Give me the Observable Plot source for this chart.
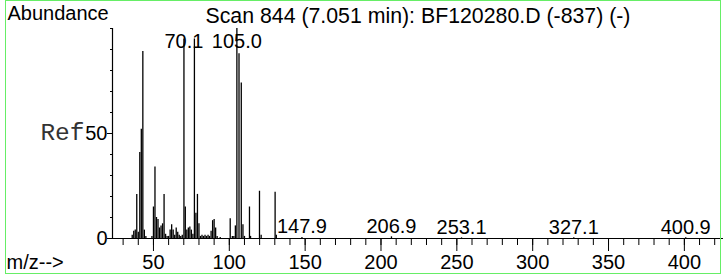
<!DOCTYPE html>
<html><head><meta charset="utf-8">
<script src="https://cdn.jsdelivr.net/npm/d3@7"></script>
<script src="https://cdn.jsdelivr.net/npm/@observablehq/plot@0.6"></script>
<style>
html,body{margin:0;padding:0;background:#fff;}
#wrap{position:relative;width:723px;height:275px;overflow:hidden;}
#border{position:absolute;left:5px;top:0;width:716px;height:274px;border:1.5px solid #66ee66;box-sizing:border-box;pointer-events:none;}
</style></head><body>
<div id="wrap"><div id="border"></div></div>
<script>
const title = "Scan 844 (7.051 min): BF120280.D (-837) (-)";
const yTitle = "Abundance";
const xTitle = "m/z-->";
const refText = "Ref";

const mz = [36, 37, 38, 39, 40, 41, 42, 43, 44, 45, 49, 50, 51, 52, 53, 54, 55, 56, 57, 58, 59, 60, 61, 62, 63, 64, 65, 66, 67, 68, 69,
  70.1, 71, 72, 73, 74, 75, 76, 77, 78, 79, 80, 81, 82, 83, 84, 85, 86, 87, 88, 89, 90, 91, 92, 94,
  100.6, 102, 103, 104, 105.0, 106.4, 107.9, 109, 110, 113.3, 114, 119.9, 121, 130.2, 131,
  147.9, 206.9, 253.1, 327.1, 400.9];
const abundance = [1.5, 3.5, 4, 21, 3, 41, 52, 89, 4, 1, 1, 15, 34, 10, 9, 5, 6, 7, 21, 2, 1, 1, 4, 6.5, 4, 1.5, 5, 3, 1.5, 1, 1.5,
  95, 15, 4, 5, 5.5, 4, 2, 95, 12, 21, 7, 1, 1.5, 1, 1.5, 1, 1.5, 1, 3.5, 8.5, 9, 5, 1, 0.5,
  9.4, 1, 1, 6, 100, 88, 74, 6.5, 1, 15, 1, 22.5, 1.5, 22, 1.5,
  0.5, 0.8, 0.3, 0.3, 0.3];

const labelMz = [70.1, 105.0, 147.9, 206.9, 253.1, 327.1, 400.9];
const labelRowAb = 89;

const xMajorTicks = [50, 100, 150, 200, 250, 300, 350, 400];
const xMinorTicks = [30, 40, 50, 60, 70, 80, 90, 100, 110, 120, 130, 140, 150, 160, 170, 180, 190, 200, 210, 220, 230, 240, 250,
  260, 270, 280, 290, 300, 310, 320, 330, 340, 350, 360, 370, 380, 390, 400, 410, 420];
const yMajorTicks = [0, 50];
const yMinorTicks = [0, 10, 20, 30, 40, 50, 60, 70, 80, 90, 100];
const xDomain = [23, 425.8];
const yDomain = [0, 100];

const peaks = mz.map((m, i) => ({mz: m, ab: abundance[i]}));
const labels = labelMz.map(m => {
  const p = peaks.find(d => d.mz === m);
  return {mz: m, ab: Math.min(p.ab, labelRowAb), text: m.toFixed(1)};
});

const chart = Plot.plot({
  width: 723,
  height: 275,
  marginLeft: 112,
  marginRight: 0,
  marginTop: 28,
  marginBottom: 37,
  style: {fontFamily: "'Liberation Sans', Arial, sans-serif", fontSize: "20px", background: "transparent", color: "#000", overflow: "visible"},
  x: {domain: xDomain, label: null},
  y: {domain: yDomain, label: null},
  marks: [
    Plot.axisX({ticks: xMinorTicks, tickSize: 7, tickFormat: () => "", label: null, stroke: "#000"}),
    Plot.axisX({ticks: xMajorTicks, tickSize: 13, tickPadding: 3, tickFormat: d => String(d), label: null, stroke: "#000", fill: "#000"}),
    Plot.axisY({ticks: yMinorTicks, tickSize: 2, tickFormat: () => "", label: null, stroke: "#000"}),
    Plot.axisY({ticks: yMajorTicks, tickSize: 5, tickPadding: 0, tickFormat: d => String(d), label: null, stroke: "#000", fill: "#000"}),
    Plot.ruleX([xDomain[0]], {stroke: "#000", strokeWidth: 1.2}),
    Plot.ruleY([0], {stroke: "#000", strokeWidth: 1.2}),
    Plot.ruleX(peaks, {x: "mz", y1: 0, y2: "ab", stroke: "#000", strokeWidth: 1.3}),
    Plot.text(labels, {x: "mz", y: "ab", text: "text", lineAnchor: "bottom", dy: -4, fill: "#000"}),
    Plot.text([yTitle], {frameAnchor: "top-left", text: d => d, dx: -105, dy: -9, lineAnchor: "bottom", textAnchor: "start", fill: "#000"}),
    Plot.text([title], {frameAnchor: "top-left", text: d => d, dx: 93, dy: -5.3, lineAnchor: "bottom", textAnchor: "start", fontSize: 21.3, fill: "#000"}),
    Plot.text([xTitle], {frameAnchor: "bottom-left", text: d => d, dx: -106, dy: 30.3, lineAnchor: "bottom", textAnchor: "start", fill: "#000"}),
    Plot.text([50], {y: d => d, frameAnchor: "left", text: () => refText, dx: -28, dy: 6.3, lineAnchor: "bottom", textAnchor: "end", fontFamily: "'Liberation Mono', 'Courier New', monospace", fontSize: 24.5, fill: "#333"})
  ]
});
document.getElementById("wrap").prepend(chart);
</script>
</body></html>
